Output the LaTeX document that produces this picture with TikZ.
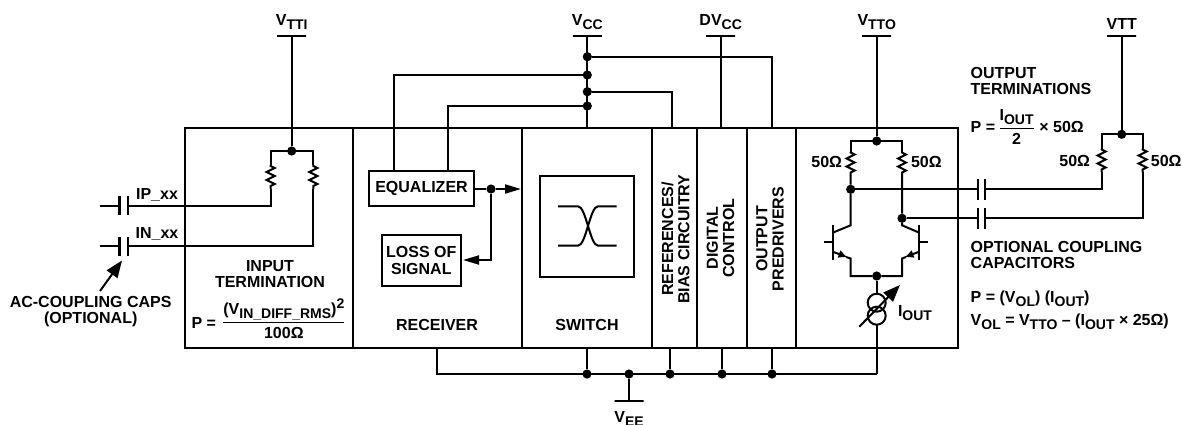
\documentclass[tikz,border=0pt]{standalone}
\usepackage{amsmath}
\usepackage{fontspec}
\setmainfont{Liberation Sans}
\usetikzlibrary{positioning,arrows.meta,decorations.pathmorphing}
\newcommand{\sbs}[1]{\raisebox{-2pt}{\fontsize{7}{7}\selectfont #1}}
\newcommand{\sps}[1]{\raisebox{3pt}{\fontsize{7}{7}\selectfont #1}}
\begin{document}
\begin{tikzpicture}[
    x=0.5pt,y=-0.5pt,
    line width=1pt,
    every node/.style={font=\fontsize{8}{8.2}\selectfont\bfseries,inner sep=0pt,outer sep=0pt},
    block/.style={draw,minimum height=110pt,anchor=west},
    tagbox/.style={draw,align=center},
    rail/.style={draw,minimum width=14.5pt,minimum height=0pt},
    dot/.style={circle,fill=black,minimum size=4.6pt},
    res/.style={decorate,decoration={zigzag,amplitude=2pt,segment length=4pt,pre length=0.5pt,post length=0.5pt}},
    arr/.style={-{Triangle[length=8pt,width=4.5pt]}},
    arrbig/.style={-{Triangle[length=8.5pt,width=6.5pt]}},
    arrtiny/.style={-{Triangle[length=4pt,width=3.5pt]}},
    capplate/.style={line width=1.1pt},
]
\useasboundingbox (0,0) rectangle (1182,424);

% main row of blocks
\node[block,minimum width=84pt] (input) at (185,238) {};
\node[block,minimum width=84.5pt,right=0pt of input] (receiver) {};
\node[block,minimum width=65pt,right=0pt of receiver] (switch) {};
\node[block,minimum width=22.5pt,right=0pt of switch] (refs) {};
\node[block,minimum width=25pt,right=0pt of refs] (digital) {};
\node[block,minimum width=24.5pt,right=0pt of digital] (predrv) {};
\node[block,minimum width=80.75pt,right=0pt of predrv] (output) {};

\node[align=center] (inputlab) at (270,274) {INPUT\\TERMINATION};
\node[anchor=east] (inputeq) at (216,322.5) {P =};
\node[anchor=west] (inputfrac) at (221,318.5) {$\displaystyle\frac{\mbox{(V\sbs{IN\_DIFF\_RMS})\sps{2}}}{\mbox{100Ω}}$};
\node (reclab) at (437,325) {RECEIVER};
\node (swlab) at (587,325) {SWITCH};
\node[rotate=90,align=center] (refslab) at (675.5,239) {REFERENCES/\\BIAS CIRCUITRY};
\node[rotate=90,align=center] (digitallab) at (720.5,238) {DIGITAL\\CONTROL};
\node[rotate=90,align=center] (predrvlab) at (770,239) {OUTPUT\\PREDRIVERS};

% receiver internals
\node[tagbox,minimum width=52.5pt,minimum height=17.5pt] (eq) at (421.5,188.5) {EQUALIZER};
\node[tagbox,minimum width=39.5pt,minimum height=25.5pt] (los) at (421.3,260.5) {LOSS OF\\SIGNAL};
\node[dot] (eqdot) at (491,189) {};
\coordinate (loscorner) at (491,260);
\coordinate (losend) at (463,260);
\coordinate (swin) at (521,189);
\draw (eq.east |- eqdot) -- (eqdot);
\draw[arr] (eqdot) -- (swin);
\draw[arr] (eqdot) -- (loscorner) -- (losend);

% switch symbol
\node[draw,minimum width=47pt,minimum height=50.5pt] (swbox) at (587,226.2) {};
\coordinate (sla) at (558,206.3);
\coordinate (slb) at (558,245.7);
\coordinate (sra) at (616.7,206.3);
\coordinate (srb) at (616.7,245.7);
\draw (sla) -- ++(20,0) .. controls (586,206.3) and (590,245.7) .. (598,245.7) -- (srb);
\draw (slb) -- ++(20,0) .. controls (586,245.7) and (590,206.3) .. (598,206.3) -- (sra);

% supplies along the top
\node[rail] (vtti) at (291.7,36) {};
\node[rail] (vcc) at (587.3,36) {};
\node[rail] (dvcc) at (720.7,36) {};
\node[rail] (vtto) at (876.7,36) {};
\node[rail] (vtt) at (1121.7,36) {};
\node[above=3.3pt of vtti] (vttilab) {V\sbs{TTI}};
\node[above=3.3pt of vcc] (vcclab) {V\sbs{CC}};
\node[above=3.3pt of dvcc] (dvcclab) {DV\sbs{CC}};
\node[above=3.3pt of vtto] (vttolab) {V\sbs{TTO}};
\node[above=3.3pt of vtt] (vttlab) {VTT};

\node[dot] (vcca) at (587.3,56.7) {};
\node[dot] (vccb) at (587.3,75) {};
\node[dot] (vccc) at (587.3,91.7) {};
\node[dot] (vccd) at (587.3,106) {};
\coordinate (eqa) at (394.3,171);
\coordinate (eqb) at (447.7,171);
\coordinate (refstop) at (671.7,127.7);
\coordinate (predtop) at (772,127.7);
\coordinate (digtop) at (720.7,127.7);
\draw (vcc) -- (switch.north -| vcc);
\draw (vcca) -| (predtop);
\draw (vccb) -| (eqa);
\draw (vccc) -| (refstop);
\draw (vccd) -| (eqb);
\draw (dvcc) -- (digtop);

% ground rail
\node[dot] (busa) at (587,374) {};
\node[dot] (veedot) at (629,374) {};
\node[dot] (busb) at (670,374) {};
\node[dot] (busc) at (722,374) {};
\node[dot] (busd) at (772,374) {};
\coordinate (busend) at (876.7,374);
\coordinate (recbot) at (437,348);
\node[rail,minimum width=14.5pt] (vee) at (629,401) {};
\node[below=5pt of vee] (veelab) {V\sbs{EE}};
\draw (recbot) |- (busend);
\draw (busa) -- (busa |- switch.south);
\draw (busb) -- (busb |- switch.south);
\draw (busc) -- (busc |- switch.south);
\draw (busd) -- (busd |- switch.south);
\draw (veedot) -- (vee);

% input termination
\node[dot] (intop) at (291.7,151) {};
\coordinate (inla) at (270.7,151);
\coordinate (inra) at (313.3,151);
\coordinate (inlb) at (270.7,165);
\coordinate (inrb) at (313.3,165);
\coordinate (inlc) at (270.7,189);
\coordinate (inrc) at (313.3,189);
\coordinate (inld) at (270.7,205.7);
\coordinate (inrd) at (313.3,246);
\coordinate (ipfree) at (99.5,205.7);
\coordinate (infree) at (99.5,246);
\draw (vtti) -- (intop);
\draw (inlb) -- (inla) -- (inra) -- (inrb);
\draw[res] (inlb) -- (inlc);
\draw[res] (inrb) -- (inrc);
\draw (inlc) -- (inld) -- (127.7,205.7);
\draw (inrc) -- (inrd) -- (127.7,246);
\draw (ipfree) -- (119.5,205.7);
\draw (infree) -- (119.5,246);
\draw[capplate] (119.5,196) -- (119.5,215);
\draw[capplate] (127.7,196) -- (127.7,215);
\draw[capplate] (119.5,237) -- (119.5,256);
\draw[capplate] (127.7,237) -- (127.7,256);
\node (iplab) at (157,195) {IP\_xx};
\node (inlab) at (157,234) {IN\_xx};
\node[align=center] (aclab) at (90.7,311.5) {AC-COUPLING CAPS\\(OPTIONAL)};
\coordinate (actip) at (122,260.5);
\coordinate (actail) at (100,291);
\draw[arrbig] (actail) -- (actip);

% output stage
\node[dot] (outtop) at (876.7,141) {};
\node[dot] (outl) at (850.7,189.3) {};
\node[dot] (outr) at (902,218.3) {};
\node[dot] (emdot) at (876.7,276) {};
\coordinate (ola) at (850.7,141);
\coordinate (ora) at (902,141);
\coordinate (olb) at (850.7,151.5);
\coordinate (orb) at (902,151.5);
\coordinate (olc) at (850.7,175);
\coordinate (orc) at (902,175);
\draw (vtto) -- (outtop);
\draw (olb) -- (ola) -- (ora) -- (orb);
\draw[res] (olb) -- (olc);
\draw[res] (orb) -- (orc);
\draw (olc) -- (outl) -- (850.7,225.3) -- (832.7,232.7);
\draw (orc) -- (outr) -- (902,225.3) -- (919.3,232.7);
\draw (832.7,225) -- (832.7,260);
\draw (919.3,225) -- (919.3,260);
\draw (824,242.3) -- (832.7,242.3);
\draw (928,242.3) -- (919.3,242.3);
\draw[arrtiny] (832.7,251.7) -- (846.5,256.8);
\draw[arrtiny] (919.3,251.7) -- (905.5,256.8);
\draw (846,257) -- (850.7,258.5) |- (emdot);
\draw (906,257) -- (902,258.5) |- (emdot);
\node[circle,draw,minimum size=9pt] (srca) at (876.7,302.7) {};
\node[circle,draw,minimum size=9pt] (srcb) at (876.7,315.7) {};
\coordinate (adjtail) at (859.3,326.7);
\coordinate (adjtip) at (900,285);
\draw[arrbig] (adjtail) -- (adjtip);
\draw (emdot) -- (srca);
\draw (srcb) -- (busend);
\node[anchor=east] (rol) at (842,162) {50Ω};
\node[anchor=west] (ror) at (911,162) {50Ω};
\node[anchor=west] (ioutlab) at (898,313) {I\sbs{OUT}};

% output terminations
\node[dot] (ttop) at (1121.7,134.3) {};
\coordinate (tla) at (1101.7,134.3);
\coordinate (tra) at (1142.7,134.3);
\coordinate (tlb) at (1101.7,148.5);
\coordinate (trb) at (1142.7,148.5);
\coordinate (tlc) at (1101.7,172);
\coordinate (trc) at (1142.7,172);
\coordinate (tld) at (1101.7,189.3);
\coordinate (trd) at (1142.7,218.3);
\draw (vtt) -- (ttop);
\draw (tlb) -- (tla) -- (tra) -- (trb);
\draw[res] (tlb) -- (tlc);
\draw[res] (trb) -- (trc);
\draw (tlc) -- (tld) -- (985,189.3);
\draw (trc) -- (trd) -- (985,218.3);
\draw (outl) -- (977.7,189.3);
\draw (outr) -- (977.7,218.3);
\draw[capplate] (977.7,179) -- (977.7,199.5);
\draw[capplate] (985,179) -- (985,199.5);
\draw[capplate] (977.7,208) -- (977.7,228.5);
\draw[capplate] (985,208) -- (985,228.5);
\node[anchor=east] (rtl) at (1090,161) {50Ω};
\node[anchor=east] (rtr) at (1181.5,161) {50Ω};

\node[anchor=west,align=left] (termlab) at (970.7,81) {OUTPUT\\TERMINATIONS};
\node[anchor=west] (termeq) at (970.7,127) {P =\hspace{1pt}$\displaystyle\frac{\mbox{I\sbs{OUT}}}{\mbox{2}}$\hspace{-0.5pt} × 50Ω};
\node[anchor=west,align=left] (coupllab) at (970.7,255) {OPTIONAL COUPLING\\CAPACITORS};
\node[anchor=west] (poweq) at (970.7,299) {P = (V\sbs{OL}) (I\sbs{OUT})};
\node[anchor=west] (voleq) at (970.7,322) {V\sbs{OL} = V\sbs{TTO} – (I\sbs{OUT} × 25Ω)};
\end{tikzpicture}
\end{document}
